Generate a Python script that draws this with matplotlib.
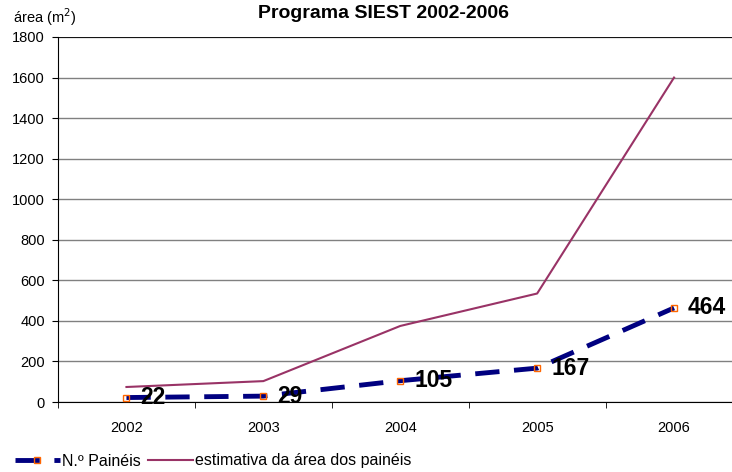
import matplotlib
matplotlib.use("Agg")
import matplotlib.pyplot as plt
from matplotlib.lines import Line2D

plt.rcParams['font.family'] = ['Liberation Sans', 'DejaVu Sans']

years = ['2002', '2003', '2004', '2005', '2006']
paineis = [22, 29, 105, 167, 464]
area = [74, 103, 375, 535, 1600]
yticks = [0, 200, 400, 600, 800, 1000, 1200, 1400, 1600, 1800]

W, H = 732, 472
fig = plt.figure(figsize=(W / 100, H / 100), dpi=100)
ax = fig.add_axes([58 / W, (H - 402) / H, (742.5 - 58) / W, (402 - 37) / H])

x = list(range(len(years)))
ax.plot(x, area, color='#993366', lw=1.5, zorder=3)
ax.plot(x, paineis, color='#000080', lw=3.5, dashes=(5, 3), zorder=4)
ax.plot(x, paineis, ls='none', marker='s', ms=4, mfc='none', mec='#FF6600', mew=1, zorder=5)

for xi, v in zip(x, paineis):
    ax.annotate(str(v), (xi, v), xytext=(10, 0), textcoords='offset points',
                ha='left', va='center', fontsize=16.5, fontweight='bold', color='black', zorder=6)

ax.set_xlim(-0.5, len(years) - 0.5)
ax.set_ylim(0, 1800)
ax.set_yticks(yticks)
ax.set_yticklabels([str(t) for t in yticks], fontsize=10.5)
ax.set_xticks(x)
ax.set_xticklabels(years, fontsize=10.5)
ax.set_xticks([i + 0.5 for i in range(-1, len(years))], minor=True)
ax.tick_params(axis='x', which='major', length=0, pad=14)
ax.tick_params(axis='x', which='minor', length=4, direction='out', color='black')
ax.tick_params(axis='y', length=4.5, direction='out', color='black', pad=5)

ax.grid(axis='y', color='#808080', lw=1)
ax.set_axisbelow(True)
for s in ['top', 'right']:
    ax.spines[s].set_visible(False)
ax.spines['left'].set_color('black')
ax.spines['bottom'].set_color('black')
ax.axhline(1800, color='black', lw=1.2, zorder=2)

fig.text(383 / W, 1 - 14 / H, 'Programa SIEST 2002-2006', ha='center', va='center',
         fontsize=14, fontweight='bold')
fig.text(13 / W, 1 - 17 / H, 'área (m$^2$)', ha='left', va='center', fontsize=10.5)

h1 = Line2D([], [], color='#000080', lw=3.5, dashes=(5, 3), marker='s', ms=4,
            mfc='none', mec='#FF6600', mew=1)
h2 = Line2D([], [], color='#993366', lw=1.5)
fig.legend([h1, h2], ['N.º Painéis', 'estimativa da área dos painéis'], loc='center left',
           bbox_to_anchor=(15 / W, 1 - 461 / H), ncol=2, frameon=False, fontsize=11.5,
           handlelength=2.8, columnspacing=0.45, handletextpad=0.15,
           borderpad=0, borderaxespad=0)

fig.savefig('out.png', dpi=100)
